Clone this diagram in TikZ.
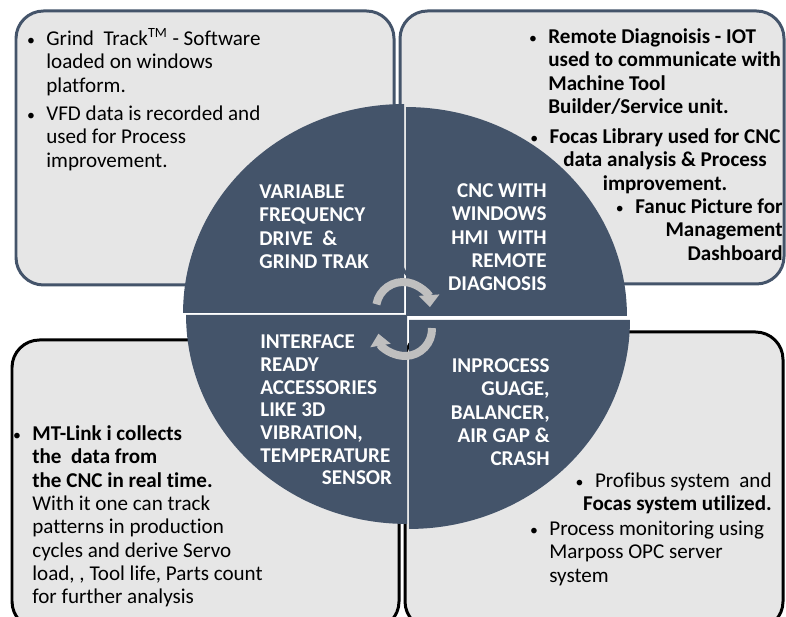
\documentclass[tikz,border=0pt]{standalone}
\usepackage{fontspec}
\setmainfont{Carlito}[Ligatures=CommonOff]
\usetikzlibrary{arrows.meta, positioning}
\definecolor{slate}{HTML}{44546A}
\definecolor{panelgray}{HTML}{E6E6E6}
\definecolor{arrowgray}{HTML}{BFBFBF}
\tikzstyle{topbox} = [draw=slate, line width=1.7pt, fill=panelgray, rounded corners=0.55cm]
\tikzstyle{bottombox} = [draw=black, line width=1.7pt, fill=panelgray, rounded corners=0.55cm]
\tikzstyle{quarter} = [fill=slate]
\tikzstyle{cyclearrow} = [arrowgray, line width=0.16cm, -{Triangle[width=0.4cm, length=0.24cm]}]
\tikzstyle{bodytext} = [inner sep=0pt, text=black, font=\fontsize{12}{13.3}\selectfont]
\tikzstyle{boldtext} = [inner sep=0pt, text=black, font=\fontsize{12}{13.3}\selectfont\bfseries]
\tikzstyle{headtext} = [inner sep=0pt, text=white, font=\fontsize{12}{13.3}\selectfont\bfseries]
\newcommand{\bul}{\strut\llap{{\fontsize{9}{9}\selectfont\mdseries\textbullet}\hskip6.5pt}}

\begin{document}
\begin{tikzpicture}[x=0.02cm, y=0.02cm]
	\useasboundingbox (0,0) rectangle (786,617);
	\clip (0,0) rectangle (786,617);

	% four panels
	\draw[topbox] (16,332) rectangle (394,606);
	\draw[topbox] (400,333) rectangle (784,606);
	\draw[bottombox] (12,-12) rectangle (399,277);
	\draw[bottombox] (405,-12) rectangle (783,285);

	% split circle
	\foreach \cx/\cy/\a in {404/304/90, 406/301/0, 407/302/180, 409/297/270}
		\fill[quarter] (\cx,\cy) -- ++(\a:4.42cm and 4.18cm) arc[start angle=\a, delta angle=90, x radius=4.42cm, y radius=4.18cm] -- cycle;

	% cycle arrows
	\draw[cyclearrow] (403,308) ++(170:0.54cm) arc[start angle=170, end angle=4, radius=0.54cm];
	\draw[cyclearrow] (405,288) ++(2:0.54cm) arc[start angle=2, end angle=-170, radius=0.54cm];

	% quarter titles
	\node (vfdhead) [headtext, anchor=north west, align=left] at (259,435.4) {\strut VARIABLE\\FREQUENCY\\DRIVE~ \&\\GRIND TRAK};
	\node (cnchead) [headtext, anchor=north east, align=right] at (547,436.4) {\strut CNC WITH\\WINDOWS\\HMI~ WITH\\REMOTE\\DIAGNOSIS};
	\node (iface) [headtext, font=\fontsize{12}{12.9}\selectfont\bfseries, anchor=north west, align=left] at (260,284.4) {\strut INTERFACE\\READY\\ACCESSORIES\\LIKE 3D\\VIBRATION,\\TEMPERATURE\\\hspace*{35pt}SENSOR};
	\node (gauge) [headtext, anchor=north east, align=right] at (550,261.4) {\strut INPROCESS\\GUAGE,\\BALANCER,\\AIR GAP \&\\CRASH};

	% top left panel
	\node (grind) [bodytext, anchor=north west, align=left] at (46,588.4) {\bul Grind~ Track\textsuperscript{TM} - Software\\loaded on windows\\platform.};
	\node (vfddata) [bodytext, anchor=north west, align=left] at (46,513.4) {\bul VFD data is recorded and\\used for Process\\improvement.};

	% top right panel
	\node (remote) [boldtext, anchor=north west, align=left] at (548,590.4) {\bul Remote Diagnoisis - IOT\\used to communicate with\\Machine Tool\\Builder/Service unit.};
	\node (focas) [boldtext, anchor=north, align=center] at (665,490.4) {\bul Focas Library used for CNC\\data analysis \& Process\\improvement.};
	\node (fanuc) [boldtext, anchor=north east, align=right] at (783,420.4) {\bul Fanuc Picture for\\Management\\Dashboard};

	% bottom left panel
	\node (mtlink) [bodytext, anchor=north west, align=left] at (32,193.4) {\bul\textbf{MT-Link i collects}\\\textbf{the~ data from}\\\textbf{the CNC in real time.}\\With it one can track\\patterns in production\\cycles and derive Servo\\load, , Tool life, Parts count\\for further analysis};

	% bottom right panel
	\node (profibus) [bodytext, anchor=north east, align=right] at (772,146.4) {\bul Profibus system~ and\\\textbf{Focas system utilized.}};
	\node (marposs) [bodytext, anchor=north west, align=left] at (549,98.4) {\bul Process monitoring using\\Marposs OPC server\\system};

\end{tikzpicture}
\end{document}
